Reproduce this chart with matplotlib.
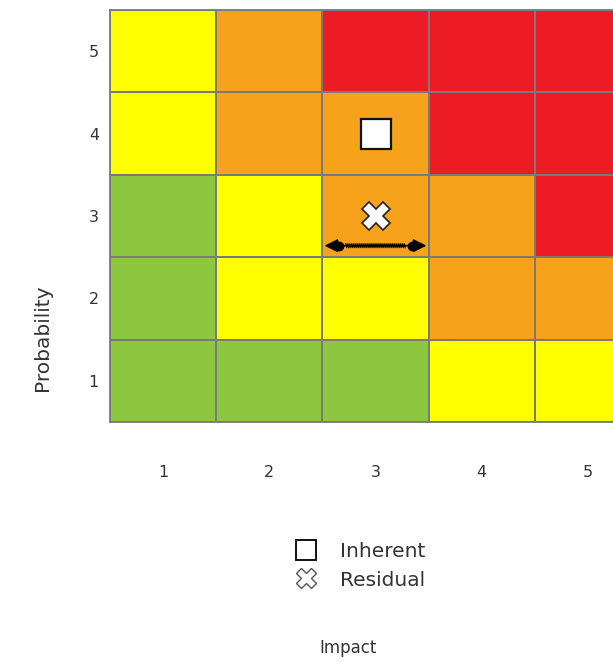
import numpy as np
import matplotlib.pyplot as plt
from matplotlib.colors import ListedColormap
from matplotlib.lines import Line2D

# Matriz de risco: linhas = probabilidade (1..5), colunas = impacto (1..5)
impact_labels = ['1', '2', '3', '4', '5']
prob_labels = ['1', '2', '3', '4', '5']
# 0 = verde, 1 = amarelo, 2 = laranja, 3 = vermelho
risk_level = np.array([
    [0, 0, 0, 1, 1],   # P1
    [0, 1, 1, 2, 2],   # P2
    [0, 1, 2, 2, 3],   # P3
    [1, 2, 2, 3, 3],   # P4
    [1, 2, 3, 3, 3],   # P5
])
level_colors = ['#8dc63f', '#ffff00', '#f7a21b', '#ed1c24']

# Posicoes dos riscos
inherent = (3, 4)
residual = (3, 3)
shift_y = 2.64
shift_x = (2.5, 3.5)

fig = plt.figure(figsize=(6.13, 6.62), dpi=100)
ax = fig.add_axes([110 / 613, 240 / 662, 531 / 613, 412 / 662])

cmap = ListedColormap(level_colors)
xe = np.arange(0.5, 6.5)
ye = np.arange(0.5, 6.5)
ax.pcolormesh(xe, ye, risk_level, cmap=cmap, vmin=-0.5, vmax=3.5,
              edgecolors='#7a7a7a', linewidth=1.1)
ax.set_xlim(0.5, 5.5)
ax.set_ylim(0.5, 5.5)
for s in ax.spines.values():
    s.set_color('#7a7a7a')
    s.set_linewidth(1.3)

ax.set_xticks(range(1, 6))
ax.set_xticklabels(impact_labels)
ax.set_yticks(range(1, 6))
ax.set_yticklabels(prob_labels)
ax.tick_params(axis='x', length=0, pad=31, labelsize=11.5, labelcolor='#333333')
ax.tick_params(axis='y', length=0, pad=8, labelsize=11.5, labelcolor='#333333')

# Risco inerente e residual
ax.plot(*inherent, marker='s', ms=22, mfc='white', mec='#111111', mew=1.6,
        ls='none', zorder=5)
ax.plot(*residual, marker='X', ms=20, mfc='white', mec='#222222', mew=1.2,
        ls='none', zorder=5)

# Seta de deslocamento com linha ondulada
ax.annotate('', xy=(shift_x[0] + 0.02, shift_y), xytext=(shift_x[1] - 0.02, shift_y),
            arrowprops=dict(arrowstyle='<|-|>', color='black', lw=1.2,
                            mutation_scale=20, shrinkA=0, shrinkB=0), zorder=6)
wx = np.linspace(shift_x[0] + 0.22, shift_x[1] - 0.22, 60)
wy = shift_y + 0.025 * np.where(np.arange(60) % 2 == 0, 1, -1)
ax.plot(wx, wy, color='black', lw=0.8, zorder=7)
ax.plot([shift_x[0] + 0.16, shift_x[1] - 0.16], [shift_y, shift_y], ls='none',
        marker='o', ms=6, color='black', zorder=7)

handles = [
    Line2D([], [], marker='s', ms=14, mfc='white', mec='#111111', mew=1.4, ls='none'),
    Line2D([], [], marker='X', ms=14, mfc='white', mec='#555555', mew=1.0, ls='none'),
]
fig.legend(handles, ['Inherent', 'Residual'], loc='center',
           bbox_to_anchor=(360 / 613, 1 - 566 / 662), frameon=False,
           fontsize=14.5, handlelength=1.2, handletextpad=1.1, labelspacing=0.45,
           labelcolor='#333333')

fig.text(348 / 613, 1 - 648 / 662, 'Impact', ha='center', va='center',
         fontsize=12, color='#333333')
fig.text(42 / 613, 1 - 338 / 662, 'Probability', ha='center', va='center',
         rotation=90, fontsize=14.5, color='#333333')

fig.savefig('out.png', dpi=100)
